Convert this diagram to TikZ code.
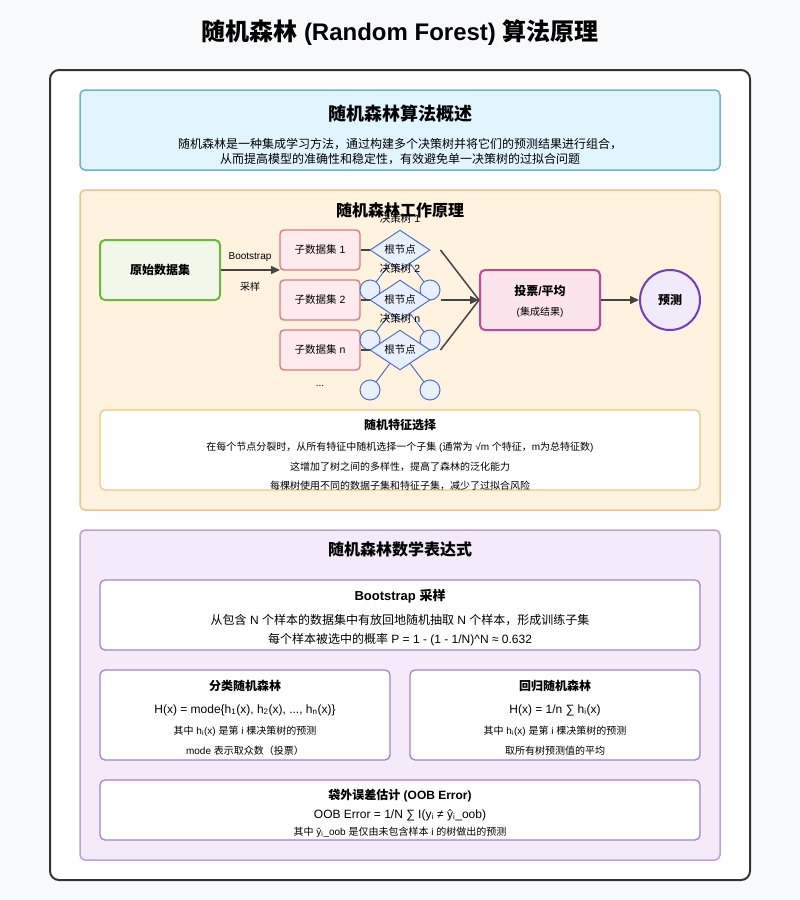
\documentclass[tikz,border=0pt]{standalone}
\usepackage{fontspec}
\setmainfont{Liberation Sans}
\newfontfamily\cjkfont{Noto Sans CJK SC}
\usetikzlibrary{arrows.meta,shapes.geometric}

% Chinese runs switch to the CJK family by themselves
\XeTeXinterchartokenstate=1
\newXeTeXintercharclass\cjkclass
\newcount\cjkcode
\def\setcjkrange#1#2{\cjkcode=#1
  \loop \XeTeXcharclass\cjkcode=\cjkclass \ifnum\cjkcode<#2 \advance\cjkcode 1 \repeat}
\setcjkrange{"3000}{"303F}
\setcjkrange{"4E00}{"9FFF}
\setcjkrange{"FF00}{"FFEF}
\XeTeXinterchartoks 0 \cjkclass = {\begingroup\cjkfont}
\XeTeXinterchartoks 4095 \cjkclass = {\begingroup\cjkfont}
\XeTeXinterchartoks \cjkclass 0 = {\endgroup}
\XeTeXinterchartoks \cjkclass 4095 = {\endgroup}

\definecolor{pagebg}{RGB}{248,249,250}
\definecolor{framegray}{RGB}{51,51,51}
\definecolor{overfill}{RGB}{225,245,254}
\definecolor{overline}{RGB}{110,175,220}
\definecolor{workfill}{RGB}{255,243,224}
\definecolor{workline}{RGB}{240,196,135}
\definecolor{origfill}{RGB}{241,248,233}
\definecolor{origline}{RGB}{104,186,56}
\definecolor{subfill}{RGB}{255,235,238}
\definecolor{subline}{RGB}{222,120,120}
\definecolor{treefill}{RGB}{232,240,254}
\definecolor{treeline}{RGB}{80,112,205}
\definecolor{votefill}{RGB}{252,228,236}
\definecolor{voteline}{RGB}{200,70,150}
\definecolor{predfill}{RGB}{240,234,250}
\definecolor{predline}{RGB}{112,62,190}
\definecolor{mathfill}{RGB}{245,234,250}
\definecolor{mathline}{RGB}{190,160,220}
\definecolor{cardline}{RGB}{165,130,205}
\definecolor{arrowgray}{RGB}{68,68,68}

\begin{document}
\begin{tikzpicture}[
  x=1pt, y=-1pt,
  panel/.style     = {draw, rounded corners=5pt, line width=1.5pt, inner sep=0pt},
  card/.style      = {draw, fill=white, rounded corners=5pt, line width=1.3pt, inner sep=0pt},
  dset/.style      = {draw=subline, fill=subfill, rounded corners=4pt, line width=1.3pt,
                      minimum width=80pt, minimum height=40pt, font=\fontsize{10.5}{12}\selectfont},
  rootnode/.style  = {diamond, draw=treeline, fill=treefill, line width=1pt, aspect=1.5, inner sep=0pt,
                      minimum width=60pt, minimum height=40pt, font=\fontsize{10.5}{12}\selectfont},
  leaf/.style      = {circle, draw=treeline, fill=treefill, line width=1pt,
                      minimum size=20pt, inner sep=0pt},
  twig/.style      = {draw=treeline, line width=1pt},
  feed/.style      = {draw=arrowgray, line width=1.5pt},
  arrow/.style     = {draw=arrowgray, line width=1.5pt, -{Triangle[length=9pt,width=8pt]}},
  ttl/.style       = {font=\bfseries\fontsize{24}{28}\selectfont},
  head/.style      = {font=\bfseries\fontsize{16}{19}\selectfont},
  sub/.style       = {font=\bfseries\fontsize{12}{14}\selectfont},
  txt/.style       = {font=\fontsize{12}{15}\selectfont, align=center},
  note/.style      = {font=\fontsize{10}{12}\selectfont, align=center},
]
  \fill[pagebg] (0,0) rectangle (800,900);
  \useasboundingbox (0,0) rectangle (800,900);

  \node[ttl] (title) at (400,33) {随机森林 (Random Forest) 算法原理};
  \node[panel, draw=framegray, fill=white, rounded corners=9pt, line width=2pt,
        minimum width=700pt, minimum height=810pt] (frame) at (400,475) {};

  % overview
  \node[panel, draw=overline, fill=overfill, minimum width=640pt, minimum height=80pt] (over) at (400,130) {};
  \node[head, font=\bfseries\fontsize{18}{21}\selectfont] (overhead) at (400,114) {随机森林算法概述};
  \node[txt] (overtext) at (400,152) {随机森林是一种集成学习方法，通过构建多个决策树并将它们的预测结果进行组合，\\从而提高模型的准确性和稳定性，有效避免单一决策树的过拟合问题};

  % how it works
  \node[panel, draw=workline, fill=workfill, minimum width=640pt, minimum height=320pt] (work) at (400,350) {};
  \node[panel, draw=origline, fill=origfill, line width=2pt, minimum width=120pt, minimum height=60pt,
        font=\bfseries\fontsize{12}{14}\selectfont] (orig) at (160,270) {原始数据集};
  \coordinate (split) at (280,270);
  \draw[arrow] (orig) -- (split);
  \node[note] (bootlbl) at (250,257) {Bootstrap};
  \node[note] (samplbl) at (250,287) {采样};

  \node[dset] (sub1) at (320,250) {子数据集 1};
  \node[dset] (sub2) at (320,300) {子数据集 2};
  \node[dset] (subn) at (320,350) {子数据集 n};
  \node[note] (dots) at (320,386) {...};

  \foreach \k/\y in {1/250, 2/300, n/350} {
    \node[rootnode] (tree\k) at (400,\y) {根节点};
    \node[leaf] (tree\k l) at (370,\y+40) {};
    \node[leaf] (tree\k r) at (430,\y+40) {};
    \draw[twig] (tree\k) -- (tree\k l);
    \draw[twig] (tree\k) -- (tree\k r);
    \node[font=\fontsize{10.5}{12}\selectfont] (tree\k lbl) at (400,\y-32) {决策树 \k};
    \draw[feed] (sub\k) -- (tree\k);
  }
  \node[head] (workhead) at (400,210) {随机森林工作原理};

  \node[panel, draw=voteline, fill=votefill, line width=2pt, minimum width=120pt, minimum height=60pt] (vote) at (540,300) {};
  \node[sub] (votetxt) at (540,291) {投票/平均};
  \node[note] (votesub) at (540,312) {(集成结果)};
  \draw[feed] ([xshift=10pt]tree1.east) -- (vote.west);
  \draw[feed] ([xshift=10pt]treen.east) -- (vote.west);
  \draw[arrow] ([xshift=10pt]tree2.east) -- (vote.west);

  \node[circle, draw=predline, fill=predfill, line width=2pt, minimum size=60pt, inner sep=0pt,
        font=\bfseries\fontsize{12}{14}\selectfont] (pred) at (670,300) {预测};
  \draw[arrow] (vote) -- (pred);

  \node[card, draw=workline, minimum width=600pt, minimum height=80pt] (feat) at (400,450) {};
  \node[sub] (feathead) at (400,425) {随机特征选择};
  \node[note] (feat1) at (400,447) {在每个节点分裂时，从所有特征中随机选择一个子集 (通常为 √m 个特征，m为总特征数)};
  \node[note] (feat2) at (400,467) {这增加了树之间的多样性，提高了森林的泛化能力};
  \node[note] (feat3) at (400,486) {每棵树使用不同的数据子集和特征子集，减少了过拟合风险};

  % formulas
  \node[panel, draw=mathline, fill=mathfill, minimum width=640pt, minimum height=330pt] (math) at (400,695) {};
  \node[head] (mathhead) at (400,549) {随机森林数学表达式};

  \node[card, draw=cardline, minimum width=600pt, minimum height=70pt] (boot) at (400,615) {};
  \node[sub, font=\bfseries\fontsize{13}{15}\selectfont] (boothead) at (400,596) {Bootstrap 采样};
  \node[txt] (boot1) at (400,620) {从包含 N 个样本的数据集中有放回地随机抽取 N 个样本，形成训练子集};
  \node[txt] (boot2) at (400,640) {每个样本被选中的概率 P = 1 - (1 - 1/N)\textasciicircum N ≈ 0.632};

  \node[card, draw=cardline, minimum width=290pt, minimum height=90pt] (cls) at (245,715) {};
  \node[sub] (clshead) at (245,686) {分类随机森林};
  \node[txt] (clsform) at (245,710) {H(x) = mode\{h\textsubscript{1}(x), h\textsubscript{2}(x), ..., h\textsubscript{n}(x)\}};
  \node[note] (clsnote) at (245,731) {其中 h\textsubscript{i}(x) 是第 i 棵决策树的预测};
  \node[note] (clsmode) at (245,751) {mode 表示取众数（投票）};

  \node[card, draw=cardline, minimum width=290pt, minimum height=90pt] (reg) at (555,715) {};
  \node[sub] (reghead) at (555,686) {回归随机森林};
  \node[txt] (regform) at (555,710) {H(x) = 1/n ∑ h\textsubscript{i}(x)};
  \node[note] (regnote) at (555,731) {其中 h\textsubscript{i}(x) 是第 i 棵决策树的预测};
  \node[note] (regmean) at (555,751) {取所有树预测值的平均};

  \node[card, draw=cardline, minimum width=600pt, minimum height=60pt] (oob) at (400,810) {};
  \node[sub] (oobhead) at (400,796) {袋外误差估计 (OOB Error)};
  \node[txt] (oobform) at (400,815) {OOB Error = 1/N ∑ I(y\textsubscript{i} ≠ ŷ\textsubscript{i}\_oob)};
  \node[note] (oobnote) at (400,832) {其中 ŷ\textsubscript{i}\_oob 是仅由未包含样本 i 的树做出的预测};
\end{tikzpicture}
\end{document}
